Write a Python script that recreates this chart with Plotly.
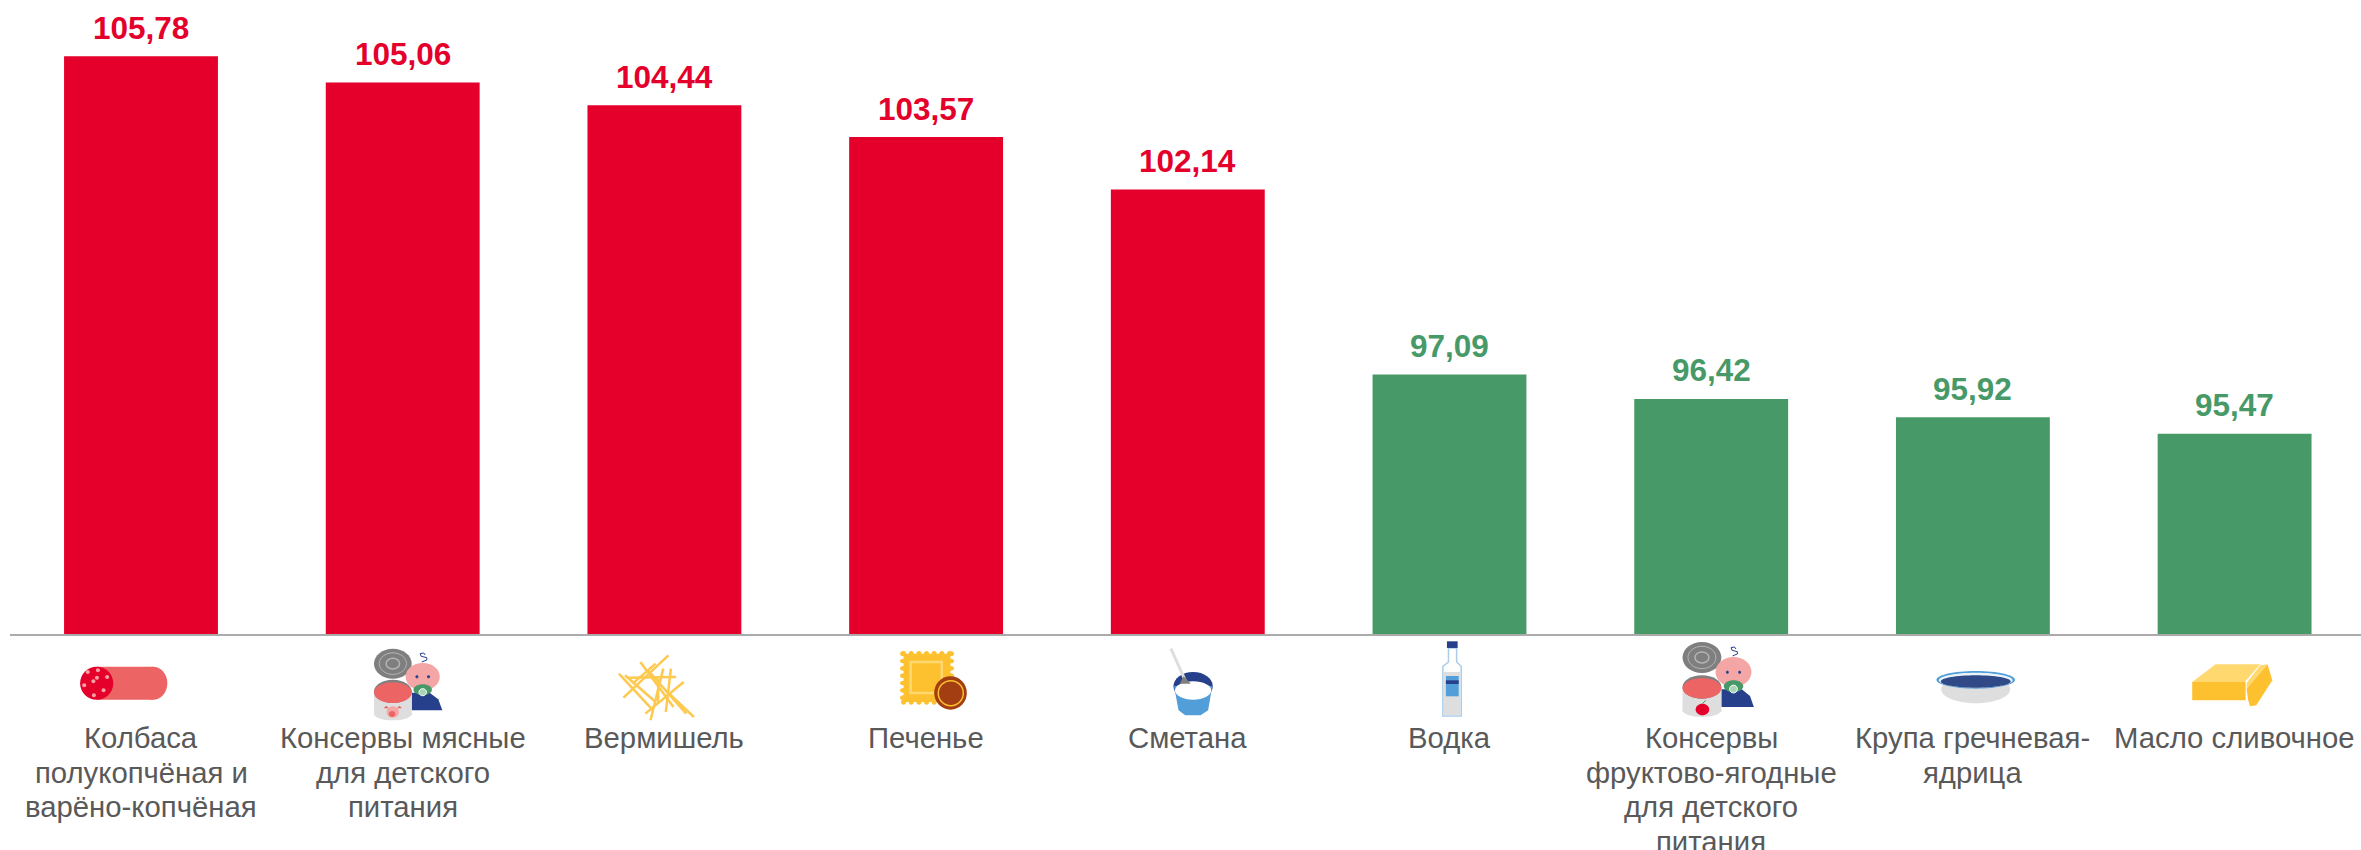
import plotly.graph_objects as go

# ---- data ----
categories = [["Колбаса", "полукопчёная и", "варёно-копчёная"], ["Консервы мясные", "для детского", "питания"],
              ["Вермишель"], ["Печенье"], ["Сметана"], ["Водка"],
              ["Консервы", "фруктово-ягодные", "для детского", "питания"],
              ["Крупа гречневая-", "ядрица"], ["Масло сливочное"]]
values = [105.78, 105.06, 104.44, 103.57, 102.14, 97.09, 96.42, 95.92, 95.47]
RED, GREEN = "#E4002B", "#479A68"
colors = [RED] * 5 + [GREEN] * 4
labels = [f"{v:.2f}".replace(".", ",") for v in values]

FONT = "Liberation Sans"
AXIS_Y, CX0, STEP = 633.7, 141.0, 261.7
LEFT, W, H = 10, 2361, 850

fig = go.Figure(go.Bar(x=list(range(9)), y=values, width=0.588, marker=dict(color=colors, line_width=0),
                       hoverinfo="x+y"))

for i, (v, lab, c) in enumerate(zip(values, labels, colors)):
    fig.add_annotation(x=i, y=v, text=lab, showarrow=False, yanchor="bottom", yshift=8.5,
                       font=dict(family=FONT, size=31.5, color=c, weight="bold"))

# category captions: one text per line for the tight line spacing of the original
for i, lines in enumerate(categories):
    for n, line in enumerate(lines):
        fig.add_annotation(x=i, xref="x", y=0, yref="paper", text=line, showarrow=False, yanchor="middle",
                           yshift=-(737.5 + 34.4 * n - AXIS_Y),
                           font=dict(family=FONT, size=29.3, color="#595959"))

# ---- pictograms (panel origin x, x-scale, y-scale) ----
PANELS = {"A": (0, 1.96), "B": (800, 1.96), "C": (1600, 2.06)}
shapes = []
NAVY, BLUE, PINK, SALMON, GREY, LGREY, YEL, LYEL = "#27408B", "#519ED9", "#F4A6A6", "#EC6464", "#7F7F7F", "#DEDEDE", "#FDC02F", "#FFD970"


def conv(i, panel, zx, zy):
    ox, sx = PANELS[panel]
    return ox + zx / sx - (CX0 + STEP * i), AXIS_Y - (620 + zy / 3)


def add(i, path, fill=None, line=None, lw=0):
    shapes.append(dict(type="path", path=path, xref="x", yref="paper", xsizemode="pixel", ysizemode="pixel",
                       xanchor=i, yanchor=0, fillcolor=fill or "rgba(0,0,0,0)",
                       line=dict(color=line or "rgba(0,0,0,0)", width=lw), layer="above"))


def poly(i, p, pts, fill=None, line=None, lw=0, close=True):
    s = []
    for k, (a, b) in enumerate(pts):
        X, Y = conv(i, p, a, b)
        s.append(("M" if k == 0 else "L") + f"{X:.2f},{Y:.2f}")
    add(i, " ".join(s) + (" Z" if close else ""), fill, line, lw)


def ell(i, p, x0, x1, y0, y1, fill=None, line=None, lw=0):
    k = 0.5523
    cx, cy = (x0 + x1) / 2, (y0 + y1) / 2
    rx, ry = (x1 - x0) / 2, (y1 - y0) / 2
    pts = [(cx + rx, cy), (cx + rx, cy + k * ry), (cx + k * rx, cy + ry), (cx, cy + ry), (cx - k * rx, cy + ry),
           (cx - rx, cy + k * ry), (cx - rx, cy), (cx - rx, cy - k * ry), (cx - k * rx, cy - ry), (cx, cy - ry),
           (cx + k * rx, cy - ry), (cx + rx, cy - k * ry), (cx + rx, cy)]
    c = [conv(i, p, a, b) for a, b in pts]
    s = f"M{c[0][0]:.2f},{c[0][1]:.2f}"
    for j in range(1, 13, 3):
        s += " C" + " ".join(f"{c[j + q][0]:.2f},{c[j + q][1]:.2f}" for q in range(3))
    add(i, s + " Z", fill, line, lw)


def rect(i, p, x0, x1, y0, y1, fill=None, line=None, lw=0):
    poly(i, p, [(x0, y0), (x1, y0), (x1, y1), (x0, y1)], fill, line, lw)


# salami
rect(0, "A", 190, 300, 139, 238, SALMON)
ell(0, "A", 272, 328, 139, 238, SALMON)
ell(0, "A", 157, 222, 139, 238, RED)
for a, b in [(172, 155), (192, 150), (210, 170), (165, 195), (183, 183), (203, 210), (184, 225), (190, 172)]:
    ell(0, "A", a - 4, a + 4, b - 6, b + 6, "#F6A0A0")


def can_baby(i, p, lid, can, head, body):
    # lid
    ell(i, p, lid[0], lid[1], lid[2], lid[3], GREY)
    w = lid[1] - lid[0]
    h = lid[3] - lid[2]
    ell(i, p, lid[0] + .14 * w, lid[1] - .14 * w, lid[2] + .14 * h, lid[3] - .14 * h, None, "#B5B5B5", 1)
    ell(i, p, lid[0] + .32 * w, lid[1] - .32 * w, lid[2] + .32 * h, lid[3] - .32 * h, None, "#B5B5B5", 1.5)
    # baby
    poly(i, p, [(body[0], body[2]), (body[1] - 25, body[2]), (body[1] - 8, body[2] + 20), (body[1], body[3]),
                (body[0], body[3])], NAVY)
    ell(i, p, head[0], head[1], head[2], head[3], PINK)
    hx = (head[0] + head[1]) / 2
    hw = head[1] - head[0]
    hh = head[3] - head[2]
    for s in (-.17, .17):
        ell(i, p, hx + s * hw - 3, hx + s * hw + 3, head[2] + .5 * hh - 4, head[2] + .5 * hh + 5, NAVY)
    ell(i, p, hx - .27 * hw, hx + .27 * hw, head[2] + .78 * hh, head[2] + 1.18 * hh, "#479A68")
    ell(i, p, hx - .11 * hw, hx + .11 * hw, head[2] + .94 * hh, head[2] + 1.2 * hh, "#A8D5B5", "#FFFFFF", 1)
    # curl
    poly(i, p, [(hx - 2, head[2] - 3), (hx + 8, head[2] - 9), (hx + 8, head[2] - 16), (hx - 3, head[2] - 20),
                (hx - 5, head[2] - 28), (hx + 2, head[2] - 30), (hx + 5, head[2] - 24)], None, NAVY, 1, close=False)
    # can
    rect(i, p, can[0], can[1], can[2] + 35, can[3] - 15, LGREY)
    ell(i, p, can[0], can[1], can[3] - 40, can[3], LGREY)
    ell(i, p, can[0], can[1], can[2], can[2] + 70, GREY)
    ell(i, p, can[0], can[1], can[2] + 8, can[2] + 70, SALMON)


can_baby(1, "A", (733, 807, 85, 175), (733, 807, 178, 300), (795, 862, 128, 210), (807, 867, 217, 270))
ell(1, "A", 758, 782, 258, 292, PINK)
ell(1, "A", 762, 775, 272, 290, SALMON)
poly(1, "A", [(757, 256), (762, 264), (752, 264)], SALMON)
poly(1, "A", [(783, 256), (778, 264), (788, 264)], SALMON)

can_baby(6, "C", (170, 250, 65, 158), (170, 250, 165, 290), (238, 312, 110, 200), (250, 317, 207, 260))
ell(6, "C", 197, 225, 250, 285, RED)
poly(6, "C", [(211, 250), (218, 240)], None, "#479A68", 1, close=False)

# vermicelli
for seg in [((1213, 160), (1280, 270)), ((1310, 105), (1222, 232)), ((1255, 125), (1320, 260)),
            ((1232, 172), (1325, 170)), ((1340, 185), (1265, 280)), ((1290, 175), (1290, 250)),
            ((1300, 145), (1275, 300)), ((1305, 210), (1360, 290)), ((1285, 130), (1240, 190)),
            ((1315, 145), (1305, 275)), ((1225, 165), (1285, 245)), ((1270, 150), (1345, 280))]:
    poly(2, "A", list(seg), None, "#FDC94F", 2.5, close=False)

# biscuit
rect(3, "B", 203, 295, 100, 245, YEL)
for a in range(203, 300, 15):
    ell(3, "B", a - 5, a + 5, 92, 108, YEL)
    ell(3, "B", a - 5, a + 5, 237, 253, YEL)
for b in range(100, 250, 22):
    ell(3, "B", 196, 208, b - 7, b + 7, YEL)
    ell(3, "B", 290, 302, b - 7, b + 7, YEL)
rect(3, "B", 217, 278, 125, 218, None, LYEL, 2.5)
ell(3, "B", 263, 327, 168, 268, "#A33D12")
ell(3, "B", 271, 320, 181, 256, None, YEL, 1.5)

# sour cream
ell(4, "B", 732, 809, 155, 240, NAVY)
poly(4, "B", [(733, 197), (808, 197), (800, 270), (785, 285), (755, 285), (742, 270)], BLUE)
ell(4, "B", 735, 806, 183, 238, "#FFFFFF")
poly(4, "B", [(727, 85), (755, 180)], None, LGREY, 3, close=False)
poly(4, "B", [(752, 168), (744, 190), (766, 190)], GREY)

# vodka
poly(5, "B", [(1271, 83), (1287, 83), (1287, 125), (1296, 138), (1296, 287), (1260, 287), (1260, 138), (1271, 125)],
     "#FFFFFF", "#A9CDEB", 1.5)
rect(5, "B", 1262, 1294, 155, 285, LGREY)
rect(5, "B", 1266, 1291, 167, 228, BLUE)
rect(5, "B", 1266, 1291, 180, 191, NAVY)
rect(5, "B", 1268, 1289, 63, 83, NAVY)

# buckwheat
ell(7, "C", 703, 845, 165, 249, LGREY)
ell(7, "C", 693, 855, 152, 205, BLUE)
ell(7, "C", 698, 850, 157, 202, "#EAF2FA")
ell(7, "C", 702, 846, 165, 202, "#2F4A86")

# butter
poly(8, "C", [(1220, 185), (1268, 132), (1360, 132), (1328, 185)], LYEL)
rect(8, "C", 1220, 1330, 185, 240, YEL)
poly(8, "C", [(1360, 135), (1332, 188), (1332, 205), (1375, 132)], LYEL)
poly(8, "C", [(1375, 132), (1385, 180), (1352, 255), (1339, 258), (1335, 238), (1332, 205)], YEL)

fig.update_layout(
    width=W and 2361, height=H, margin=dict(l=LEFT, r=0, t=0, b=H - AXIS_Y),
    paper_bgcolor="white", plot_bgcolor="white", showlegend=False, shapes=shapes,
    font=dict(family=FONT),
    xaxis=dict(range=[(LEFT - CX0) / STEP, (W - CX0) / STEP], tickmode="array", tickvals=list(range(9)),
               ticktext=[""] * 9, ticks="", showgrid=False, zeroline=False, showline=True, linecolor="#ABABAB",
               linewidth=2, automargin=False),
    yaxis=dict(range=[90, 90 + AXIS_Y / 36.6], visible=False, showgrid=False, zeroline=False, fixedrange=True),
)
fig.write_html("out.html", config=dict(displayModeBar=False),
               post_script="document.body.style.margin='0';document.body.style.overflow='hidden';")
